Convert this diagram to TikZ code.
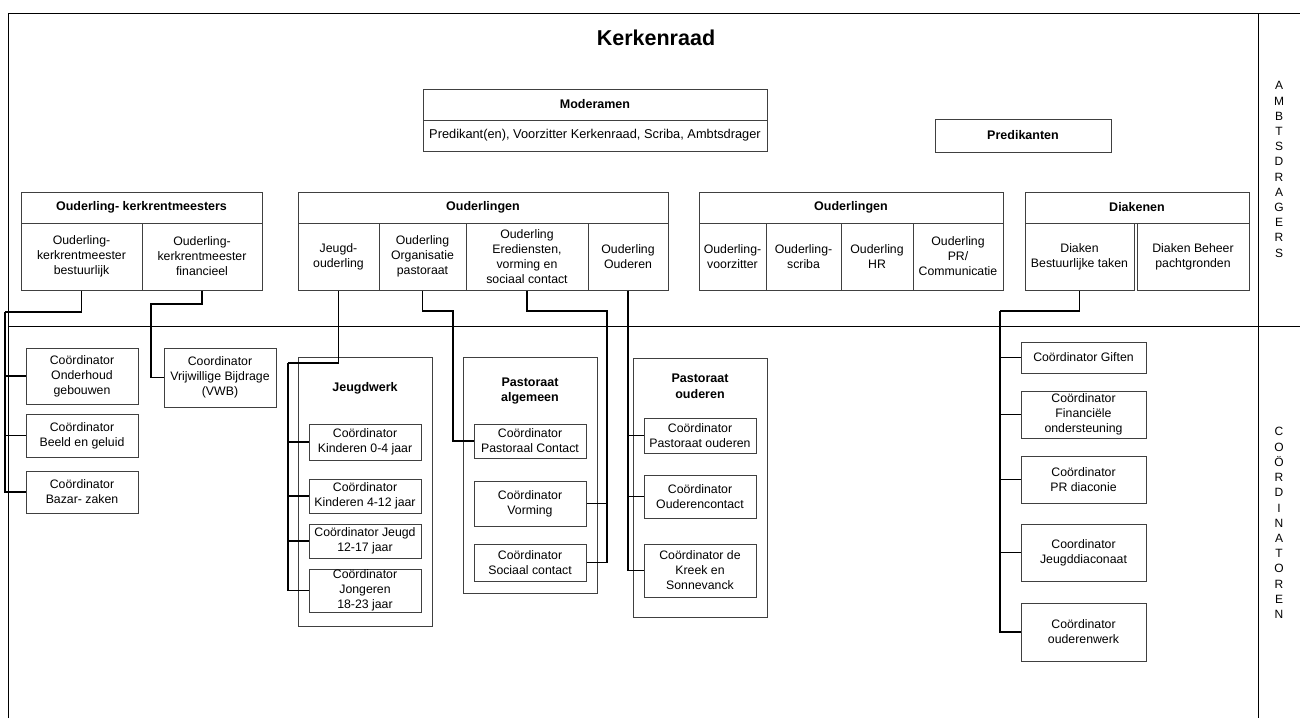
\documentclass[tikz,border=0pt]{standalone}
\usepackage{fontspec}
\setmainfont{Liberation Sans}
\tikzset{
  box/.style={draw=black!75, line width=1pt, inner sep=0pt, align=center, font=\fontsize{12.3}{15}\selectfont},
  hdr/.style={box, font=\fontsize{12.5}{15}\selectfont\bfseries},
  ttl/.style={inner sep=0pt, align=center, font=\fontsize{12.5}{15.5}\selectfont\bfseries},
  conn/.style={draw=black, line width=1.2pt},
  frameline/.style={draw=black, line width=1pt},
  vert/.style={inner sep=0pt, align=center, font=\fontsize{12}{15.2}\selectfont}
}
\begin{document}
\begin{tikzpicture}[x=1pt,y=-1pt]
\useasboundingbox (0,0) rectangle (1300,718);
% frame
\draw[frameline] (8,718) -- (8,13) -- (1300,13);
\draw[frameline] (1258,13) -- (1258,718);
\draw[frameline] (8,326) -- (1300,326);
\node[font=\fontsize{21.5}{25}\selectfont\bfseries] (title) at (656,38) {Kerkenraad};
\node[vert] (ambt) at (1279,169.5) {A\\M\\B\\T\\S\\D\\R\\A\\G\\E\\R\\S};
\node[vert] (coord) at (1279,523) {C\\O\\Ö\\R\\D\\I\\N\\A\\T\\O\\R\\E\\N};
% Moderamen
\node[hdr, minimum width=344pt, minimum height=31pt] (mod) at (595,104.5) {Moderamen};
\node[box, minimum width=344pt, minimum height=31pt, font=\fontsize{12.8}{15}\selectfont] (modsub) at (595,135.5) {Predikant(en), Voorzitter Kerkenraad, Scriba, Ambtsdrager};
\node[hdr, minimum width=176pt, minimum height=33pt] (pred) at (1023,135.5) {Predikanten};
% Ouderling-kerkrentmeesters
\node[hdr, minimum width=241pt, minimum height=31pt] (kkh) at (141.5,207.5) {Ouderling- kerkrentmeesters};
\node[box, minimum width=121pt, minimum height=67pt] (kkb) at (81.5,256.5) {Ouderling-\\kerkrentmeester\\bestuurlijk};
\node[box, minimum width=120pt, minimum height=67pt] (kkf) at (202,256.5) {Ouderling-\\kerkrentmeester\\financieel};
% Ouderlingen 1
\node[hdr, minimum width=370pt, minimum height=31pt] (o1h) at (483,207.5) {Ouderlingen};
\node[box, minimum width=81pt, minimum height=67pt] (jo) at (338.5,256.5) {Jeugd-\\ouderling};
\node[box, minimum width=87pt, minimum height=67pt] (org) at (422.5,256.5) {Ouderling\\Organisatie\\pastoraat};
\node[box, minimum width=122pt, minimum height=67pt] (ered) at (527,256.5) {Ouderling\\Erediensten,\\vorming en\\sociaal contact};
\node[box, minimum width=80pt, minimum height=67pt] (oud) at (628,256.5) {Ouderling\\Ouderen};
% Ouderlingen 2
\node[hdr, minimum width=304pt, minimum height=31pt] (o2h) at (851,207.5) {Ouderlingen};
\node[box, minimum width=67pt, minimum height=67pt] (ovz) at (732.5,256.5) {Ouderling-\\voorzitter};
\node[box, minimum width=75pt, minimum height=67pt] (osc) at (803.5,256.5) {Ouderling-\\scriba};
\node[box, minimum width=72pt, minimum height=67pt] (ohr) at (877,256.5) {Ouderling\\HR};
\node[box, minimum width=90pt, minimum height=67pt] (opr) at (958,256.5) {Ouderling\\PR/\\Communicatie};
% Diakenen
\node[hdr, minimum width=224pt, minimum height=31pt] (dh) at (1137,207.5) {Diakenen};
\node[box, minimum width=109pt, minimum height=67pt] (dbt) at (1079.5,256.5) {Diaken\\Bestuurlijke taken};
\node[box, minimum width=112pt, minimum height=67pt] (dbp) at (1193,256.5) {Diaken Beheer\\pachtgronden};
% left coordinators
\node[box, minimum width=112pt, minimum height=56pt] (cond) at (82,376) {Coördinator\\Onderhoud\\gebouwen};
\node[box, minimum width=112pt, minimum height=43pt] (cbeeld) at (82,435.5) {Coördinator\\Beeld en geluid};
\node[box, minimum width=112pt, minimum height=42pt] (cbazar) at (82,492) {Coördinator\\Bazar- zaken};
\node[box, minimum width=112pt, minimum height=59pt] (vwb) at (220,377.5) {Coordinator\\Vrijwillige Bijdrage\\(VWB)};
% Jeugdwerk
\node[box, minimum width=134pt, minimum height=269pt] (jw) at (365,491.5) {};
\node[ttl] (jwt) at (365,388) {Jeugdwerk};
\node[box, minimum width=112pt, minimum height=36pt] (j04) at (365,442) {Coördinator\\Kinderen 0-4 jaar};
\node[box, minimum width=112pt, minimum height=34pt] (j412) at (365,496) {Coördinator\\Kinderen 4-12 jaar};
\node[box, minimum width=112pt, minimum height=34pt] (j1217) at (365,541) {Coördinator Jeugd\\12-17 jaar};
\node[box, minimum width=112pt, minimum height=43pt] (j1823) at (365,590.5) {Coördinator\\Jongeren\\18-23 jaar};
% Pastoraat algemeen
\node[box, minimum width=134pt, minimum height=236pt] (pa) at (530,475) {};
\node[ttl] (pat) at (530,391) {Pastoraat\\algemeen};
\node[box, minimum width=112pt, minimum height=34pt] (pc) at (530,441) {Coördinator\\Pastoraal Contact};
\node[box, minimum width=112pt, minimum height=45pt] (vorm) at (530,503.5) {Coördinator\\Vorming};
\node[box, minimum width=112pt, minimum height=37pt] (soc) at (530,562.5) {Coördinator\\Sociaal contact};
% Pastoraat ouderen
\node[box, minimum width=134pt, minimum height=259pt] (pou) at (700,487.5) {};
\node[ttl] (pout) at (700,386.5) {Pastoraat\\ouderen};
\node[box, minimum width=112pt, minimum height=35pt] (po) at (700,435.5) {Coördinator\\Pastoraat ouderen};
\node[box, minimum width=112pt, minimum height=43pt] (oc) at (700,496.5) {Coördinator\\Ouderencontact};
\node[box, minimum width=112pt, minimum height=53pt] (kreek) at (700,570.5) {Coördinator de\\Kreek en\\Sonnevanck};
% Diaconie coordinators
\node[box, minimum width=125pt, minimum height=31pt] (gift) at (1083.5,357.5) {Coördinator Giften};
\node[box, minimum width=125pt, minimum height=47pt] (fin) at (1083.5,414.5) {Coördinator\\Financiële\\ondersteuning};
\node[box, minimum width=125pt, minimum height=47pt] (prd) at (1083.5,479.5) {Coördinator\\PR diaconie};
\node[box, minimum width=125pt, minimum height=57pt] (jd) at (1083.5,552.5) {Coordinator\\Jeugddiaconaat};
\node[box, minimum width=125pt, minimum height=58pt] (ow) at (1083.5,632) {Coördinator\\ouderenwerk};
% turning points
\coordinate (busL) at (5,312);
\coordinate (vwbT) at (151,304);
\coordinate (jT) at (288,363);
\coordinate (orgT) at (453,311);
\coordinate (eredT) at (607,311);
\coordinate (dT) at (1000,311);
% connectors
\draw[conn] (kkb.south) |- (busL);
\draw[conn] (busL) |- (cond.west);
\draw[conn] (busL) |- (cbeeld.west);
\draw[conn] (busL) |- (cbazar.west);
\draw[conn] (kkf.south) |- (vwbT) |- (vwb.west);
\draw[conn] (jo.south) |- (jT);
\draw[conn] (jT) |- (j04.west);
\draw[conn] (jT) |- (j412.west);
\draw[conn] (jT) |- (j1217.west);
\draw[conn] (jT) |- (j1823.west);
\draw[conn] (org.south) |- (orgT) |- (pc.west);
\draw[conn] (ered.south) |- (eredT) |- (soc.east);
\draw[conn] (eredT) |- (vorm.east);
\draw[conn] (oud.south) |- (po.west);
\draw[conn] (oud.south) |- (oc.west);
\draw[conn] (oud.south) |- (kreek.west);
\draw[conn] (dbt.south) |- (dT);
\draw[conn] (dT) |- (gift.west);
\draw[conn] (dT) |- (fin.west);
\draw[conn] (dT) |- (prd.west);
\draw[conn] (dT) |- (jd.west);
\draw[conn] (dT) |- (ow.west);
\end{tikzpicture}
\end{document}
